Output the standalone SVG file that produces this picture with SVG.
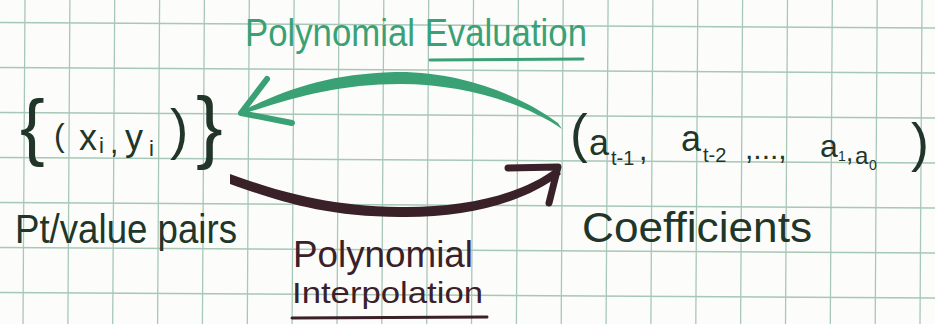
<svg xmlns="http://www.w3.org/2000/svg" width="935" height="324" viewBox="0 0 935 324">
<defs>
<style>
.grid{stroke:#a7c7b7;stroke-width:1.3;fill:none}
.ink{font-family:"Liberation Sans","DejaVu Sans",sans-serif;fill:#213629}
.grn{font-family:"Liberation Sans","DejaVu Sans",sans-serif;fill:#3aa175}
.mar{font-family:"Liberation Sans","DejaVu Sans",sans-serif;fill:#3a2029}
.ulg{stroke:#3aa175;stroke-width:3;stroke-linecap:round;fill:none}
.ulm{stroke:#3a2029;stroke-width:3;stroke-linecap:round;fill:none}
</style>
</defs>
<rect width="935" height="324" fill="#fcfdfb"/>
<g id="grid" class="grid">
<path d="M25 0L23 324M69.9 0L67.9 324M114.7 0L112.7 324M159.6 0L157.6 324M204.4 0L202.4 324M249.3 0L247.3 324M294.1 0L292.1 324M339 0L337 324M383.8 0L381.8 324M428.7 0L426.7 324M473.5 0L471.5 324M518.4 0L516.4 324M563.2 0L561.2 324M608.1 0L606.1 324M652.9 0L650.9 324M697.8 0L695.8 324M742.6 0L740.6 324M787.5 0L785.5 324M832.3 0L830.3 324M877.2 0L875.2 324M922 0L920 324"/>
<path d="M0 22.5L935 28M0 67.5L935 73M0 112.5L935 118M0 157.5L935 163M0 202.5L935 208M0 247.5L935 253M0 292.5L935 298"/>
</g>
<g id="connectors">
<g id="evaluation-arrow">
<path d="M246 109C290 88 330 74 395 72C460 71 520 95 558 123L562 129C522 102 462 84 400 84C340 84 295 97 246 113Z" fill="#3aa175"/>
<path d="M267 79L241 113L292 123" fill="none" stroke="#3aa175" stroke-width="6" stroke-linecap="round" stroke-linejoin="round"/>
<text class="grn" x="245" y="46" font-size="38" textLength="342" lengthAdjust="spacingAndGlyphs">Polynomial Evaluation</text>
<path class="ulg" d="M430 60L583 59"/>
</g>
<g id="interpolation-arrow">
<path d="M230 174C270 188 320 206 400 207C460 208 520 196 556 168L561 174C525 203 465 218 400 217C320 217 270 198 230 184Z" fill="#3a2029"/>
<path d="M508 168L558 167L549 203" fill="none" stroke="#3a2029" stroke-width="7" stroke-linecap="round" stroke-linejoin="round"/>
<text class="mar" x="293" y="267" font-size="36" textLength="180" lengthAdjust="spacingAndGlyphs">Polynomial</text>
<text class="mar" x="292" y="303" font-size="29" textLength="191" lengthAdjust="spacingAndGlyphs">Interpolation</text>
<path class="ulm" d="M292 318L487 317"/>
</g>
</g>
<g id="node-pairs">
<text class="ink"><tspan x="20" y="152" font-size="74">{</tspan><tspan x="54" y="146" font-size="32">(</tspan><tspan x="79" y="150" font-size="36">x</tspan><tspan x="99" y="153" font-size="22">i</tspan><tspan x="110" y="153" font-size="30">,</tspan><tspan x="125" y="150" font-size="36">y</tspan><tspan x="149" y="156" font-size="22">i</tspan><tspan x="170" y="148" font-size="55">)</tspan><tspan x="196" y="153" font-size="80">}</tspan></text>
<text class="ink" x="15" y="243" font-size="40" textLength="222" lengthAdjust="spacingAndGlyphs">Pt/value pairs</text>
</g>
<g id="node-coefficients">
<text class="ink"><tspan x="570" y="152" font-size="53">(</tspan><tspan x="589" y="155" font-size="36">a</tspan><tspan x="611" y="165" font-size="20">t-1</tspan><tspan x="639" y="160" font-size="30">,</tspan><tspan x="681" y="151" font-size="36">a</tspan><tspan x="703" y="162" font-size="20">t-2</tspan><tspan x="745" y="159" font-size="30">,...,</tspan><tspan x="820" y="157" font-size="32">a</tspan><tspan x="838" y="161" font-size="14">1</tspan><tspan x="846" y="161" font-size="26">,</tspan><tspan x="855" y="164" font-size="24">a</tspan><tspan x="869" y="170" font-size="14">0</tspan><tspan x="911" y="161" font-size="54">)</tspan></text>
<text class="ink" x="582" y="242" font-size="42" textLength="230" lengthAdjust="spacingAndGlyphs">Coefficients</text>
</g>
</svg>
